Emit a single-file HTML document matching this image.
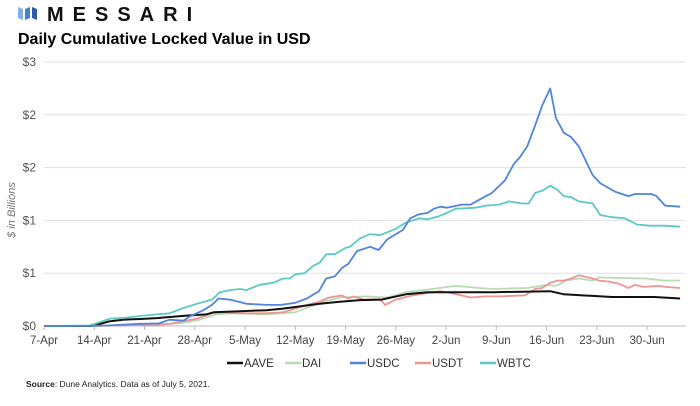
<!DOCTYPE html>
<html><head><meta charset="utf-8"><style>
body{margin:0;background:#fff;width:700px;height:401px;overflow:hidden;font-family:"Liberation Sans",sans-serif}
</style></head><body>
<svg id="c" width="700" height="401" viewBox="0 0 700 401" xmlns="http://www.w3.org/2000/svg">
<g>
<path d="M18 7 L23 9 L23 20 L18 18 Z" fill="#7fb2e8"/>
<path d="M25 9 L30 7 L30 18 L25 20 Z" fill="#4a7fc9"/>
<path d="M32 7 L37 9 L37 20 L32 18 Z" fill="#2a5aa8"/>
<text x="47" y="21" font-size="20" font-weight="bold" letter-spacing="9" fill="#111">MESSARI</text>
</g>
<text x="18" y="44" font-size="16" font-weight="bold" fill="#000">Daily Cumulative Locked Value in USD</text>
<g id="grid"></g><g id="series"></g>
<text transform="translate(15,210) rotate(-90)" text-anchor="middle" font-size="11" font-style="italic" fill="#777">$ in Billions</text>
<g id="legend"></g>
<text x="26" y="387" font-size="8.5" fill="#222"><tspan font-weight="bold">Source</tspan>: Dune Analytics. Data as of July 5, 2021.</text>
</svg>
<script>
const yTicks=[0,0.5,1,1.5,2,2.5];
const yTickLabels=["$0","$1","$1","$2","$2","$3"];
const xTickDays=[0,7,14,21,28,35,42,49,56,63,70,77,84];
const xTickLabels=["7-Apr","14-Apr","21-Apr","28-Apr","5-May","12-May","19-May","26-May","2-Jun","9-Jun","16-Jun","23-Jun","30-Jun"];
const seriesNames=["AAVE","DAI","USDC","USDT","WBTC"];
const usdcDays=[0,6,9,13,16,17.5,19.4,20.3,22.2,23.4,24.3,25.9,28.2,31,33,35,36.6,38.3,39.3,40.5,41.5,42.4,43.6,45.4,46.6,47.8,50,51,52.3,53.4,54.3,55.2,56.1,58.2,59.4,61,62.4,64.2,65.4,66.3,67.3,68.4,69.4,70.5,71.3,72.4,73.4,74.5,76.4,77.5,79.6,81.4,82.3,84.6,85.3,86.5,88.6];
const usdcVals=[0,0,0.005,0.02,0.025,0.06,0.05,0.09,0.15,0.2,0.26,0.25,0.21,0.2,0.2,0.22,0.26,0.33,0.45,0.47,0.55,0.59,0.71,0.75,0.72,0.82,0.91,1.02,1.06,1.07,1.11,1.13,1.12,1.15,1.15,1.21,1.26,1.38,1.53,1.6,1.7,1.9,2.09,2.25,1.97,1.83,1.79,1.7,1.43,1.35,1.27,1.23,1.25,1.25,1.23,1.14,1.13];
const wbtcDays=[0,6.4,9.2,11.5,13.4,15.7,17.5,19.4,21.3,23.4,24.5,25.9,27.3,28.2,30,32,33.3,34.2,35,36.3,37.5,38.4,39.3,40.5,42,42.6,44,45.4,46.8,49,50.4,52.3,53.4,55,56.4,57.3,60.1,61.5,63.4,64.8,66.6,67.5,68.4,69.4,70.5,71.5,72.4,73.4,74.5,76.4,77.5,79.1,80.9,82.6,84.4,86.5,88.6];
const wbtcVals=[0,0.005,0.07,0.08,0.095,0.11,0.12,0.17,0.21,0.25,0.32,0.34,0.35,0.34,0.39,0.41,0.45,0.45,0.49,0.5,0.57,0.6,0.68,0.68,0.74,0.75,0.83,0.87,0.86,0.92,0.98,1.02,1.01,1.04,1.08,1.11,1.12,1.14,1.15,1.18,1.16,1.16,1.26,1.28,1.33,1.29,1.23,1.22,1.18,1.16,1.05,1.03,1.02,0.96,0.95,0.95,0.94];
const aaveDays=[0,6.4,7.8,9.2,11,13.4,15.7,17.5,20.3,22.6,23.6,27.3,31,33.3,35,38.4,41.2,44,47,50.4,53.4,62.6,70.5,72.4,75,76.4,79.1,85,88.6];
const aaveVals=[0,0,0.02,0.045,0.06,0.066,0.075,0.085,0.1,0.11,0.13,0.14,0.15,0.165,0.18,0.21,0.23,0.245,0.25,0.3,0.32,0.32,0.33,0.3,0.29,0.285,0.275,0.275,0.26];
const usdtDays=[0,6.4,15.7,17.5,19.4,21.3,23.4,24.5,27.3,31,33.3,35,36.6,38.4,39.7,41.5,42.4,43.1,44.5,46.8,47.5,49,51.3,55.2,56.8,59.4,61.5,63.5,67,68.4,69.4,70.5,71.5,72.4,73.4,74.5,76.4,77.3,78.7,80.1,81.4,82.3,83.5,85.6,86.5,88.6];
const usdtVals=[0,0,0.01,0.02,0.045,0.07,0.12,0.13,0.12,0.12,0.13,0.165,0.2,0.23,0.27,0.29,0.26,0.28,0.25,0.255,0.2,0.25,0.29,0.33,0.31,0.27,0.28,0.28,0.29,0.35,0.36,0.41,0.43,0.43,0.45,0.48,0.45,0.43,0.42,0.4,0.36,0.39,0.37,0.38,0.37,0.36];
const daiDays=[0,6.4,17.5,19.4,21.7,24,26.3,31,35,38.4,41.2,44.9,47.8,50.4,53.4,57.3,60.6,62.6,67.2,70.2,71.3,72.7,74.5,76.4,77.3,80.1,83.8,86.5,88.6];
const daiVals=[0,0,0.02,0.03,0.06,0.11,0.12,0.11,0.13,0.22,0.27,0.28,0.27,0.32,0.345,0.38,0.36,0.35,0.36,0.39,0.38,0.43,0.45,0.43,0.46,0.455,0.45,0.43,0.43];

const NS="http://www.w3.org/2000/svg";
const X0=44,X1=686,Y0=326,Y1=62,PXDAY=7.18,YMAX=2.5;
const xs=d=>X0+d*PXDAY;
const ys=v=>Y0-v/YMAX*(Y0-Y1);
function mk(tag,attrs,parent){const e=document.createElementNS(NS,tag);for(const k in attrs)e.setAttribute(k,attrs[k]);parent.appendChild(e);return e;}
const grid=document.getElementById('grid');
yTicks.forEach((t,i)=>{
  const l=mk('line',{x1:X0,x2:X1,y1:ys(t),y2:ys(t),stroke:i==0?'#bbb':'#e0e0e0','stroke-width':1},grid);
  
  
  const tx=mk('text',{x:36,y:ys(t)+4,'text-anchor':'end','font-size':12,fill:'#555'},grid);
  tx.textContent=yTickLabels[i];
  
  
});
xTickDays.forEach((d,i)=>{
  const l=mk('line',{x1:xs(d),x2:xs(d),y1:Y0,y2:Y0+4,stroke:'#bbb'},grid);
  
  
  const tx=mk('text',{x:xs(d),y:344,'text-anchor':'middle','font-size':11.5,fill:'#444'},grid);
  tx.textContent=xTickLabels[i];
  
  
});
const colors={AAVE:'#111111',DAI:'#b9dbb2',USDC:'#5184dc',USDT:'#ec9694',WBTC:'#5cc9c6'};
const data={AAVE:[aaveDays,aaveVals],DAI:[daiDays,daiVals],USDC:[usdcDays,usdcVals],USDT:[usdtDays,usdtVals],WBTC:[wbtcDays,wbtcVals]};
const sg=document.getElementById('series');
["DAI","USDT","AAVE","WBTC","USDC"].forEach(n=>{
  const [d,v]=data[n];
  const pts=d.map((x,i)=>xs(x).toFixed(1)+','+ys(v[i]).toFixed(1)).join(' ');
  const p=mk('polyline',{points:pts,fill:'none',stroke:colors[n],'stroke-width':n=='AAVE'?2:1.8,'stroke-linejoin':'round'},sg);
  
  
});
const lg=document.getElementById('legend');
const lx=[227,285,350,415,480];
seriesNames.forEach((n,i)=>{
  const g=mk('g',{},lg);
  
  
  mk('line',{x1:lx[i],x2:lx[i]+16,y1:363,y2:363,stroke:colors[n],'stroke-width':2.5},g);
  const t=mk('text',{x:lx[i]+17,y:367,'font-size':11.5,fill:'#333'},g);
  t.textContent=n;
});
</script>
</body></html>
